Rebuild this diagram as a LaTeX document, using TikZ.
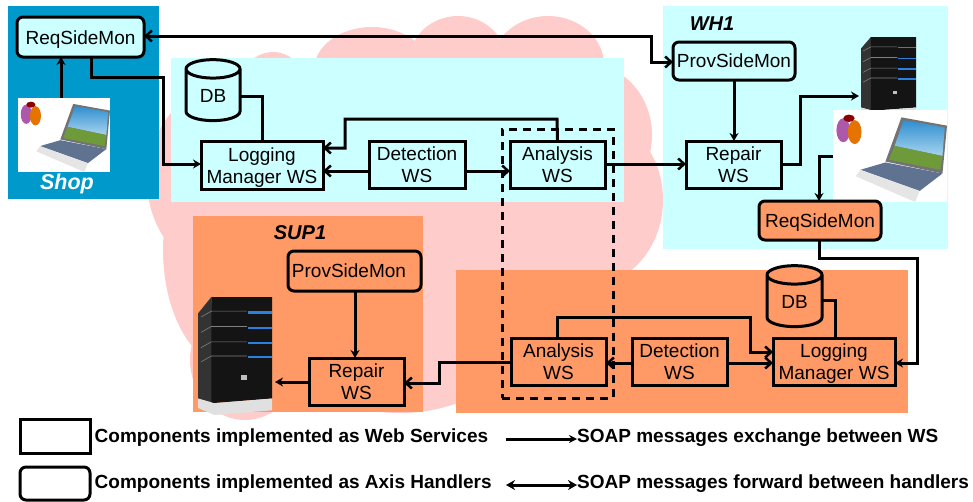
\documentclass[tikz,border=0pt]{standalone}
\usepackage{fontspec}
\setmainfont{Liberation Sans}
\usetikzlibrary{arrows.meta,shapes.geometric}
\definecolor{cloudpink}{HTML}{FFCCCC}
\definecolor{shopblue}{HTML}{0099CC}
\definecolor{cyanpanel}{HTML}{CCFFFF}
\definecolor{orangepanel}{HTML}{FF9966}
\definecolor{srvblue}{HTML}{2A7FE0}
\definecolor{skyblue}{HTML}{2F8FD0}
\definecolor{skylight}{HTML}{A8D4EE}
\definecolor{grassgreen}{HTML}{6E9A3A}
\definecolor{keyslate}{HTML}{5F7390}
\tikzset{
  x=1pt,y=-1pt,
  wsbox/.style={draw=black,line width=3pt,inner sep=0pt,outer sep=0pt,align=center,
    font=\fontsize{19}{22}\selectfont},
  axbox/.style={wsbox,rounded corners=6pt},
  dbshape/.style={cylinder,shape border rotate=90,aspect=0.7,draw=black,line width=3pt,
    inner sep=0pt,outer sep=0pt,font=\fontsize{19}{22}\selectfont},
  conn/.style={line width=3pt,draw=black},
  arr/.style={conn,-{Stealth[length=8pt,width=9pt]}},
  barb/.style={conn,-{Straight Barb[length=6pt,width=11pt,line width=2.5pt]}},
  dblbarb/.style={conn,{Straight Barb[length=6pt,width=11pt,line width=2.5pt]}-{Straight Barb[length=6pt,width=11pt,line width=2.5pt]}},
  title/.style={font=\fontsize{20}{24}\selectfont\bfseries\itshape,inner sep=0pt},
  legend/.style={font=\fontsize{19}{21}\selectfont\bfseries,anchor=west,inner sep=0pt},
}
\newcommand{\lowtext}{\rule{0pt}{18pt}}
\newcommand{\serverpic}[4]{%
\begin{scope}[shift={(#1,#2)},xscale=#3/100,yscale=#4/100]
  \fill[black!80] (0,14) -- (18,0) -- (22,90) -- (0,86) -- cycle;
  \fill[black!92] (18,0) -- (100,0) -- (100,86) -- (18,90) -- cycle;
  \foreach \yy in {13,26,39,51}{
    \draw[black!50,line width=0.6pt] (4,\yy+4) -- (18,\yy-1) -- (66,\yy-1);
    \fill[srvblue] (68,\yy-1) rectangle (100,\yy+1);
  }
  \fill[black!25] (58,66) rectangle (66,70);
  \fill[black!12] (0,86) -- (22,90) -- (100,86) -- (100,96) -- (22,100) -- (0,94) -- cycle;
\end{scope}}
\newcommand{\laptoppic}[4]{%
\begin{scope}[shift={(#1,#2)},xscale=#3/100,yscale=#4/100]
  \fill[white] (0,0) rectangle (100,100);
  \fill[black!55] (60,8) -- (100,17) -- (96,69) -- (46,56) -- cycle;
  \shade[top color=skyblue,bottom color=skylight] (62,11) -- (98,19) -- (96,50) -- (54,39) -- cycle;
  \fill[grassgreen] (54,39) -- (96,50) -- (94,65) -- (49,54) -- cycle;
  \fill[keyslate] (46,57) -- (96,69) -- (76,88) -- (24,65) -- cycle;
  \fill[black!10] (24,65) -- (76,88) -- (72,100) -- (20,72) -- cycle;
  \fill[violet!65] (9,22) ellipse [x radius=6,y radius=13];
  \fill[orange!90!black] (19,24) ellipse [x radius=6,y radius=13];
  \fill[red!55!black] (14,9) ellipse [x radius=5,y radius=4];
\end{scope}}
\begin{document}
\begin{tikzpicture}
\useasboundingbox (0,0) rectangle (973,501);
% cloud
\fill[cloudpink]
  (240,180) ellipse [x radius=93,y radius=100]
  (273,110) ellipse [x radius=42,y radius=58]
  (235,250) ellipse [x radius=72,y radius=120]
  (372,70) ellipse [x radius=58,y radius=43]
  (458,60) ellipse [x radius=48,y radius=44]
  (548,65) ellipse [x radius=56,y radius=49]
  (590,135) ellipse [x radius=62,y radius=70]
  (590,200) ellipse [x radius=73,y radius=85]
  (420,190) ellipse [x radius=190,y radius=120]
  (400,300) ellipse [x radius=140,y radius=113]
  (245,360) ellipse [x radius=55,y radius=60];
% panels
\fill[shopblue] (8,6) rectangle (159,199);
\fill[cyanpanel] (171,58) rectangle (624,202);
\fill[cyanpanel] (663,6) rectangle (948,249);
\fill[orangepanel] (193,216) rectangle (423,412);
\fill[orangepanel] (456,270) rectangle (908,413);
% pictures
\laptoppic{18}{98}{92}{74}
\serverpic{861}{37}{55}{82}
\laptoppic{833}{110}{114}{92}
\serverpic{198}{297}{74}{118}
% titles
\node[title,text=white,font=\fontsize{21.5}{24}\selectfont\bfseries\itshape] (shoptitle) at (67,184) {Shop};
\node[title] (wh1title) at (712,24) {WH1};
\node[title] (sup1title) at (300,233) {SUP1};
% dashed group
\node[draw=black,line width=3pt,dash pattern=on 8pt off 6pt,minimum width=111pt,minimum height=269pt,inner sep=0pt,outer sep=0pt] (group) at (557.5,263.5) {};
% top boxes
\node[axbox,fill=cyanpanel,minimum width=127pt,minimum height=40pt] (reqA) at (80.5,37) {\lowtext ReqSideMon};
\node[axbox,fill=cyanpanel,minimum width=122pt,minimum height=38pt] (provA) at (734,61) {ProvSideMon};
\node[wsbox,fill=cyanpanel,minimum width=122pt,minimum height=48pt] (logA) at (262,165) {\lowtext Logging\\Manager WS};
\node[wsbox,fill=cyanpanel,minimum width=96pt,minimum height=47pt] (detA) at (417,164.5) {Detection\\WS};
\node[wsbox,fill=cyanpanel,minimum width=95pt,minimum height=47pt] (anaA) at (557.5,164.5) {Analysis\\WS};
\node[wsbox,fill=cyanpanel,minimum width=95pt,minimum height=47pt] (repA) at (733.5,164.5) {Repair\\WS};
\node[dbshape,fill=cyanpanel,minimum width=54pt,minimum height=61pt] (dbA) at (213,95.5) {\raisebox{-6pt}{DB}};
\coordinate (srvA) at (859,96);
\coordinate (lapB) at (833,156);
\coordinate (lapA) at (61,98);
% lower boxes
\node[axbox,fill=orangepanel,minimum width=122pt,minimum height=39pt] (reqB) at (820,220.5) {\lowtext ReqSideMon};
\node[axbox,fill=orangepanel,minimum width=133pt,minimum height=40pt] (provB) at (354.5,271) {ProvSideMon\hspace{11pt}};
\node[wsbox,fill=orangepanel,minimum width=95pt,minimum height=47pt] (repB) at (356.5,381.5) {Repair\\WS};
\node[wsbox,fill=orangepanel,minimum width=95pt,minimum height=47pt] (anaB) at (558.5,361.5) {Analysis\\WS};
\node[wsbox,fill=orangepanel,minimum width=95pt,minimum height=47pt] (detB) at (679.5,361.5) {Detection\\WS};
\node[wsbox,fill=orangepanel,minimum width=122pt,minimum height=47pt] (logB) at (834,361.5) {\lowtext Logging\\Manager WS};
\node[dbshape,fill=orangepanel,minimum width=55pt,minimum height=61pt] (dbB) at (794.5,301.5) {\raisebox{-6pt}{DB}};
\coordinate (srvB) at (275,382);
% connectors
\draw[dblbarb] (reqA.east |- 0,36) -- (651,36) -- (651,62) -- (provA.west |- 0,62);
\draw[arr] (lapA) -- (reqA.south -| lapA);
\draw[arr] (91,0 |- reqA.south) -- (91,77) -- (163,77) -- (163,164) -- (logA.west |- 0,164);
\draw[conn] (dbA.east |- 0,96) -- (262,96) -- (logA.north);
\draw[barb] (anaA.north) -- (557,119) -- (345,119) -- (345,148) -- (logA.east |- 0,148);
\draw[barb] (detA.west |- 0,171) -- (logA.east |- 0,171);
\draw[barb] (detA.east |- 0,171) -- (anaA.west |- 0,171);
\draw[barb] (anaA.east |- 0,164) -- (repA.west |- 0,164);
\draw[arr] (provA.south) -- (repA.north -| provA.south);
\draw[arr] (repA.east |- 0,164) -- (800,164) -- (800,96) -- (srvA);
\draw[arr] (lapB) -- (819,156) -- (819,0 |- reqB.north);
\draw[arr] (819,0 |- reqB.south) -- (819,258) -- (917,258) -- (917,363) -- (logB.east |- 0,363);
\draw[conn] (dbB.east |- 0,300) -- (835,300) -- (835,0 |- logB.north);
\draw[barb] (557,0 |- anaB.north) -- (557,317) -- (750,317) -- (750,352) -- (logB.west |- 0,352);
\draw[barb] (detB.east |- 0,363) -- (logB.west |- 0,363);
\draw[barb] (detB.west |- 0,363) -- (anaB.east |- 0,363);
\draw[barb] (anaB.west |- 0,362) -- (439,362) -- (439,383) -- (repB.east |- 0,383);
\draw[arr] (355,0 |- provB.south) -- (355,0 |- repB.north);
\draw[arr] (repB.west |- 0,382) -- (srvB);
% legend
\node[wsbox,fill=white,minimum width=70pt,minimum height=34pt] (legWS) at (55,436) {};
\node[axbox,fill=white,minimum width=70pt,minimum height=33pt] (legAH) at (55,483.5) {};
\node[legend] (legWSt) at (94.5,438) {Components implemented as Web Services};
\node[legend] (legAHt) at (94.5,484) {Components implemented as Axis Handlers};
\node[legend] (legEx) at (577,438) {SOAP messages exchange between WS};
\node[legend] (legFw) at (577,484) {SOAP messages forward between handlers};
\coordinate (legA1) at (506,439);
\coordinate (legA2) at (506,485);
\draw[conn,-{Stealth[length=8pt,width=8pt]}] (legA1) -- (legEx.west |- legA1);
\draw[conn,{Stealth[length=9pt,width=10pt]}-{Stealth[length=9pt,width=10pt]}] (legA2) -- (legFw.west |- legA2);
\end{tikzpicture}
\end{document}
